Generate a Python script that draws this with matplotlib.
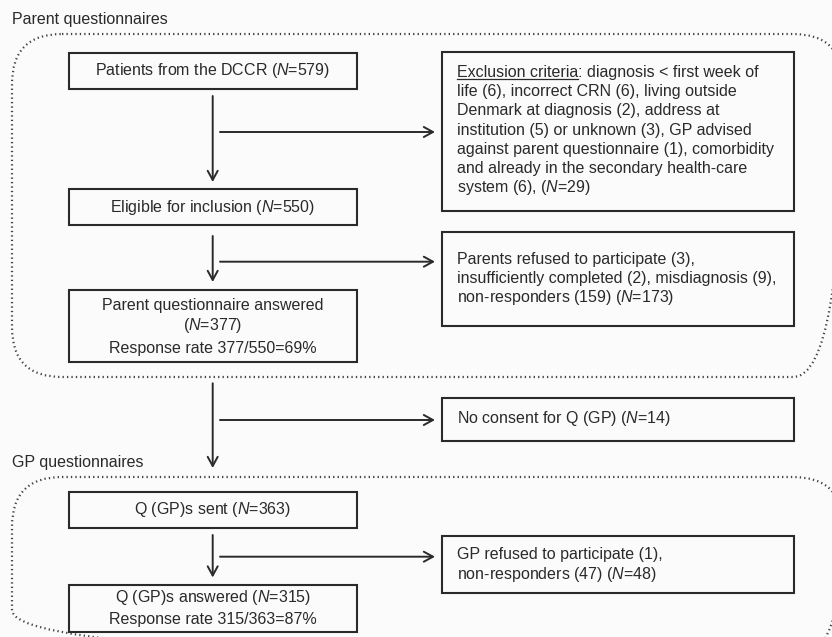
import matplotlib
matplotlib.use("Agg")
import matplotlib.pyplot as plt
from matplotlib.patches import FancyBboxPatch, Rectangle

plt.rcParams['font.family'] = ['Liberation Sans', 'DejaVu Sans']
plt.rcParams['mathtext.fontset'] = 'custom'
plt.rcParams['mathtext.rm'] = 'Liberation Sans'
plt.rcParams['mathtext.it'] = 'Liberation Sans:italic'

# flow chart content
group_labels = ["Parent questionnaires", "GP questionnaires"]
main_boxes = [
    ["Patients from the DCCR ($N$=579)"],
    ["Eligible for inclusion ($N$=550)"],
    ["Parent questionnaire answered", "($N$=377)", "Response rate 377/550=69%"],
    ["Q (GP)s sent ($N$=363)"],
    ["Q (GP)s answered ($N$=315)", "Response rate 315/363=87%"],
]
excl_head = "Exclusion criteria"
side_boxes = [
    [": diagnosis < first week of",
     "life (6), incorrect CRN (6), living outside",
     "Denmark at diagnosis (2), address at",
     "institution (5) or unknown (3), GP advised",
     "against parent questionnaire (1), comorbidity",
     "and already in the secondary health-care",
     "system (6), ($N$=29)"],
    ["Parents refused to participate (3),",
     "insufficiently completed (2), misdiagnosis (9),",
     "non-responders (159) ($N$=173)"],
    ["No consent for Q (GP) ($N$=14)"],
    ["GP refused to participate (1),",
     "non-responders (47) ($N$=48)"],
]

W, H = 832, 637
fig = plt.figure(figsize=(W / 100, H / 100), dpi=100)
fig.patch.set_facecolor('#fbfbfb')
ax = fig.add_axes([0, 0, 1, 1])
ax.set_xlim(0, W)
ax.set_ylim(H, 0)
ax.axis('off')

ink = '#2a2a2a'
fs = 11.5
line_h = 19.2
bl = 4.4  # offset from line centre to baseline


def put(x, yc, s, ha='left'):
    return ax.text(x, yc + bl, s, fontsize=fs, ha=ha, va='baseline', color=ink)


# dotted group outlines
groups = [(12, 34, 843, 377), (12, 477, 843, 660)]
for (x0, y0, x1, y1), lab in zip(groups, group_labels):
    ax.add_patch(FancyBboxPatch((x0, y0), x1 - x0, y1 - y0,
                                boxstyle="round,pad=0,rounding_size=50",
                                fill=False, ec='#444444', lw=1.6,
                                ls=(0, (0.6, 1.4)), clip_on=True))
    put(x0, y0 - 14, lab)

# main column boxes
main_pos = [(52.5, 89.3), (189.3, 225.3), (290, 362.3), (491.7, 527.7), (585, 631.7)]
bx0, bx1 = 69, 357
for lines, (y0, y1) in zip(main_boxes, main_pos):
    ax.add_patch(Rectangle((bx0, y0), bx1 - bx0, y1 - y0, fill=False, ec=ink, lw=1.5))
    if len(lines) == 3:
        ys = [305.7, 325.5, 349]
    else:
        yc = (y0 + y1) / 2
        n = len(lines)
        ys = [yc + (i - (n - 1) / 2) * 22.3 for i in range(n)]
    for t, y in zip(lines, ys):
        put((bx0 + bx1) / 2, y, t, ha='center')

# side boxes
side_pos = [(52.3, 210.7), (232.3, 326), (397.7, 441), (535.7, 593.3)]
side_first = [72.7, 259.3, 418.3, 555]
sx0, sx1 = 441.7, 794
tx = 456.7
renderer = fig.canvas.get_renderer()
for k, (lines, (y0, y1), yf) in enumerate(zip(side_boxes, side_pos, side_first)):
    ax.add_patch(Rectangle((sx0, y0), sx1 - sx0, y1 - y0, fill=False, ec=ink, lw=1.5))
    for i, t in enumerate(lines):
        y = yf + i * line_h
        if k == 0 and i == 0:
            h = put(tx, y, excl_head)
            bb = h.get_window_extent(renderer)
            xe = ax.transData.inverted().transform((bb.x1, 0))[0]
            ax.plot([tx, xe], [y + bl + 1.8, y + bl + 1.8], color=ink, lw=0.9)
            put(xe, y, t)
        else:
            put(tx, y, t)

# arrows
ax_x = 212.7
arrows = [(96, 182, 132), (236, 282, 261.7), (383.3, 468, 420), (535, 577.5, 556.7)]
aprops = dict(arrowstyle='->,head_length=0.55,head_width=0.3', color=ink, lw=1.4,
              shrinkA=0, shrinkB=0, mutation_scale=12)
for ya, yb, yh in arrows:
    ax.annotate('', xy=(ax_x, yb), xytext=(ax_x, ya), arrowprops=aprops)
    ax.annotate('', xy=(435, yh), xytext=(220, yh), arrowprops=aprops)

fig.savefig("out.png", dpi=100, facecolor=fig.get_facecolor())
